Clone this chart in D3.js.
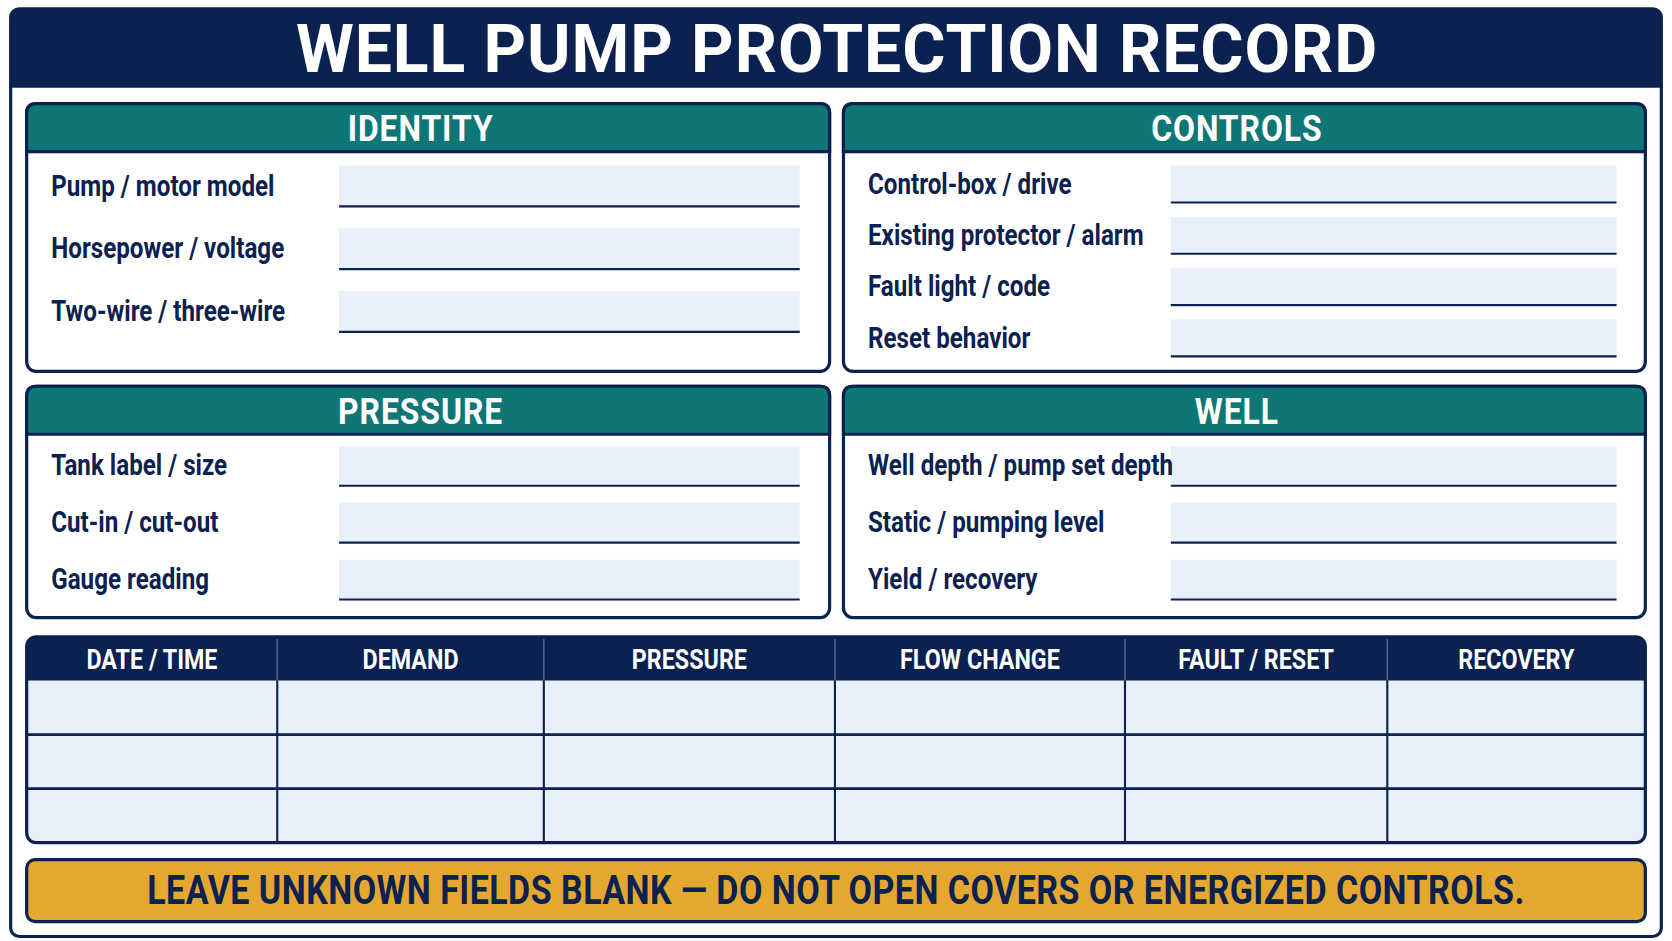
<!DOCTYPE html>
<html>
<head>
<meta charset="utf-8">
<script src="https://cdn.jsdelivr.net/npm/d3@7"></script>
<style>
  body { margin: 0; background: #fff; }
  text { font-family: "Roboto", "Liberation Sans", sans-serif; font-weight: bold; }
</style>
</head>
<body>
<div class="canva"></div>
<script>
// data
const title = 'WELL PUMP PROTECTION RECORD'
const identityFields = ['Pump / motor model', 'Horsepower / voltage', 'Two-wire / three-wire']
const controlsFields = ['Control-box / drive', 'Existing protector / alarm', 'Fault light / code', 'Reset behavior']
const pressureFields = ['Tank label / size', 'Cut-in / cut-out', 'Gauge reading']
const wellFields = ['Well depth / pump set depth', 'Static / pumping level', 'Yield / recovery']
const logColumns = ['DATE / TIME', 'DEMAND', 'PRESSURE', 'FLOW CHANGE', 'FAULT / RESET', 'RECOVERY']
const logRows = [1, 2, 3]
const footer = 'LEAVE UNKNOWN FIELDS BLANK — DO NOT OPEN COVERS OR ENERGIZED CONTROLS.'

const navy = '#0b2150', teal = '#0f7676', fieldFill = '#e8f0fb', amber = '#e4a730'
const squeeze = 0.84

const svg = d3.select('.canva').append('svg')
      .attr('width', 1672)
      .attr('height', 941)
      .attr('viewBox', '0 0 1568 882')

// outer frame + title
svg.append('rect').attr('x', 10).attr('y', 8).attr('width', 1548).attr('height', 870)
   .attr('rx', 8).attr('fill', '#fff').attr('stroke', navy).attr('stroke-width', 3)
svg.append('path').attr('d', 'M10,82 V16 Q10,8 18,8 H1550 Q1558,8 1558,16 V82 Z').attr('fill', navy)
svg.append('text').attr('x', 785).attr('y', 67).attr('text-anchor', 'middle')
   .attr('fill', '#fff').attr('font-size', 62).attr('font-family', 'DejaVu Sans').attr('letter-spacing', 1)
   .attr('textLength', 1015).text(title)

//panels
const panels = [
  {name: 'IDENTITY', fields: identityFields, x: 25, y: 97, w: 753, h: 251, lx: 48, bx: 318, bw: 432, r: [155, 311], pad: 0.35},
  {name: 'CONTROLS', fields: controlsFields, x: 791, y: 97, w: 752, h: 251, lx: 814, bx: 1098, bw: 418, r: [155, 334], pad: 0.28},
  {name: 'PRESSURE', fields: pressureFields, x: 25, y: 362, w: 753, h: 217, lx: 48, bx: 318, bw: 432, r: [418, 562], pad: 0.3},
  {name: 'WELL', fields: wellFields, x: 791, y: 362, w: 752, h: 217, lx: 814, bx: 1098, bw: 418, r: [418, 562], pad: 0.3}
]

panels.forEach(p => {
  const g = svg.append('g')
  const hh = 45
  g.append('rect').attr('x', p.x).attr('y', p.y).attr('width', p.w).attr('height', p.h)
   .attr('rx', 9).attr('fill', '#fff').attr('stroke', navy).attr('stroke-width', 3)
  g.append('path')
   .attr('d', `M${p.x},${p.y + hh} V${p.y + 9} Q${p.x},${p.y} ${p.x + 9},${p.y} H${p.x + p.w - 9} Q${p.x + p.w},${p.y} ${p.x + p.w},${p.y + 9} V${p.y + hh} Z`)
   .attr('fill', teal).attr('stroke', navy).attr('stroke-width', 3)
  g.append('text').attr('x', p.x + p.w / 2 - 8).attr('y', p.y + 35).attr('text-anchor', 'middle')
   .attr('fill', '#fff').attr('font-size', 34).attr('font-family', 'DejaVu Sans').attr('letter-spacing', 1)
   .attr('transform', `translate(${(p.x + p.w / 2) * 0.12},0) scale(0.88,1)`)
   .text(p.name)

  const y = d3.scaleBand()
    .domain(p.fields)
    .range(p.r)
    .paddingInner(p.pad)
  const row = g.selectAll('g.row').data(p.fields).enter().append('g')
  row.append('rect').attr('x', p.bx).attr('y', d => y(d)).attr('width', p.bw).attr('height', y.bandwidth())
     .attr('fill', fieldFill)
  row.append('line').attr('x1', p.bx).attr('x2', p.bx + p.bw)
     .attr('y1', d => y(d) + y.bandwidth()).attr('y2', d => y(d) + y.bandwidth())
     .attr('stroke', navy).attr('stroke-width', 2)
  row.append('text').attr('x', p.lx / squeeze).attr('y', d => y(d) + y.bandwidth() / 2 + 9)
     .attr('transform', `scale(${squeeze},1)`)
     .attr('fill', navy).attr('font-size', 27).text(d => d)
})

// log table
const colWeights = [235, 250, 273, 272, 246, 242]
const edges = d3.cumsum([0].concat(colWeights))
const tx = d3.scaleLinear().domain([0, edges[edges.length - 1]]).range([25, 1543])
const ty = d3.scaleBand().domain(logRows).range([638, 790])
const table = svg.append('g')
table.append('rect').attr('x', 25).attr('y', 597).attr('width', 1518).attr('height', 193)
     .attr('rx', 9).attr('fill', fieldFill).attr('stroke', navy).attr('stroke-width', 3)
table.append('path').attr('d', 'M25,638 V606 Q25,597 34,597 H1534 Q1543,597 1543,606 V638 Z').attr('fill', navy)
table.selectAll('text.col').data(logColumns).enter().append('text')
     .attr('x', (d, i) => (tx(edges[i]) + tx(edges[i + 1])) / 2 / squeeze).attr('y', 627)
     .attr('transform', `scale(${squeeze},1)`)
     .attr('text-anchor', 'middle').attr('fill', '#fff').attr('font-size', 26).text(d => d)
table.selectAll('line.v').data(edges.slice(1, -1)).enter().append('line')
     .attr('x1', d => tx(d)).attr('x2', d => tx(d)).attr('y1', 599).attr('y2', 789)
     .attr('stroke', d => navy).attr('stroke-width', 2)
table.selectAll('line.v2').data(edges.slice(1, -1)).enter().append('line')
     .attr('x1', d => tx(d)).attr('x2', d => tx(d)).attr('y1', 599).attr('y2', 638)
     .attr('stroke', '#4a6290').attr('stroke-width', 1.5)
table.selectAll('line.h').data(logRows.slice(1)).enter().append('line')
     .attr('x1', 25).attr('x2', 1543).attr('y1', d => ty(d)).attr('y2', d => ty(d))
     .attr('stroke', navy).attr('stroke-width', 2.5)

// footer banner
svg.append('rect').attr('x', 25).attr('y', 806).attr('width', 1518).attr('height', 58)
   .attr('rx', 8).attr('fill', amber).attr('stroke', navy).attr('stroke-width', 3)
svg.append('text').attr('x', 784 / squeeze).attr('y', 848).attr('text-anchor', 'middle')
   .attr('transform', `scale(${squeeze},1)`)
   .attr('fill', navy).attr('font-size', 38).attr('letter-spacing', 0.5)
   .text(footer)
</script>
</body>
</html>
